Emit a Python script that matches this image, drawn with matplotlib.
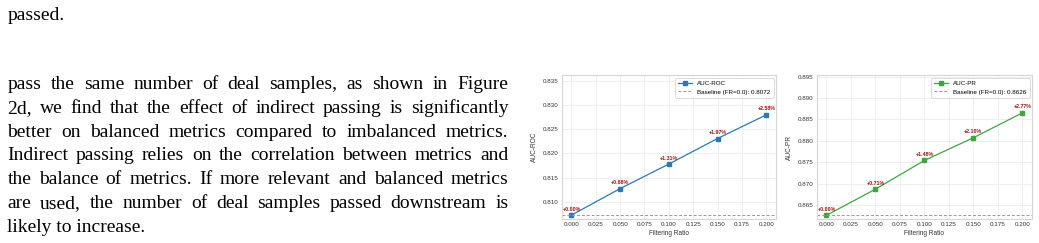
import numpy as np
import matplotlib
matplotlib.use("Agg")
import matplotlib.pyplot as plt

# data
ratios = [0.0, 0.05, 0.10, 0.15, 0.20]
roc_vals = [0.8072, 0.8127, 0.8178, 0.8231, 0.8280]
pr_vals = [0.8626, 0.8687, 0.8754, 0.8807, 0.8865]
roc_base = 0.8072
pr_base = 0.8626
xtick_vals = [0.0, 0.025, 0.05, 0.075, 0.1, 0.125, 0.15, 0.175, 0.2]

top_line = "passed."
para_lines = [
    "pass the same number of deal samples, as shown in Figure",
    "2d, we find that the effect of indirect passing is significantly",
    "better on balanced metrics compared to imbalanced metrics.",
    "Indirect passing relies on the correlation between metrics and",
    "the balance of metrics. If more relevant and balanced metrics",
    "are used, the number of deal samples passed downstream is",
    "likely to increase.",
]

W, H = 1039, 243
fig = plt.figure(figsize=(W / 100, H / 100), dpi=100)
fig.patch.set_facecolor("white")

serif = "Liberation Serif"
sans = "Liberation Sans"

# ---- body text (justified by hand) ----
left_px, right_px = 7.3, 508.3
fs_body = 14
renderer = fig.canvas.get_renderer()

fig.text(left_px / W, 1 - 20 / H, top_line, family=serif, fontsize=fs_body,
         va="baseline", ha="left")

base0, step = 89.3, 23.73
for i, line in enumerate(para_lines):
    y = 1 - (base0 + i * step) / H
    last = i == len(para_lines) - 1
    if last:
        fig.text(left_px / W, y, line, family=serif, fontsize=fs_body,
                 va="baseline", ha="left")
        continue
    words = line.split(" ")
    objs = []
    widths = []
    for w in words:
        t = fig.text(0, y, w, family=serif, fontsize=fs_body,
                     va="baseline", ha="left")
        objs.append(t)
        widths.append(t.get_window_extent(renderer).width)
    gap = (right_px - left_px - sum(widths)) / (len(words) - 1)
    x = left_px
    for t, wd in zip(objs, widths):
        t.set_x(x / W)
        x += wd + gap


# ---- charts ----
def panel(rect, vals, base, color, name, ylabel):
    ax = fig.add_axes(rect)
    ax.set_facecolor("white")
    ax.grid(True, color="#ececec", linewidth=0.6)
    ax.set_axisbelow(True)
    for s in ax.spines.values():
        s.set_color("#d6d6d6")
        s.set_linewidth(0.8)
    ax.plot(ratios, vals, marker="s", markersize=3.2, linewidth=0.9,
            color=color, label=name)
    ax.axhline(base, color="#999999", linestyle="--", linewidth=0.7,
               dashes=(3, 2), label="Baseline (FR=0.0): %.4f" % base)
    for xv, yv in zip(ratios, vals):
        pct = (yv - base) / base * 100
        ax.annotate("+%.2f%%" % pct, (xv, yv), xytext=(0, 2.5),
                    textcoords="offset points", ha="center", va="bottom",
                    fontsize=3.8, color="#a01010", fontweight="bold",
                    family=sans)
    ax.set_ylim(min(vals) * 0.999, max(vals) * 1.01)
    ax.set_xticks(xtick_vals)
    ax.set_xticklabels(["%.3f" % v for v in xtick_vals])
    ax.tick_params(length=0, labelsize=4.5, labelcolor="#333333", pad=2.5)
    for lab in ax.get_xticklabels() + ax.get_yticklabels():
        lab.set_family(sans)
    ax.set_xlabel("Filtering Ratio", fontsize=4.7, family=sans,
                  color="#333333", labelpad=2)
    ax.set_ylabel(ylabel, fontsize=4.7, family=sans, color="#333333",
                  labelpad=3)
    leg = ax.legend(loc="upper right", prop={"family": sans, "size": 4.5},
                    frameon=True, fancybox=True, framealpha=1,
                    borderpad=0.5, handlelength=2.2, borderaxespad=0.4)
    leg.get_frame().set_edgecolor("#d6d6d6")
    leg.get_frame().set_linewidth(0.6)
    return ax


panel([561.7 / W, 1 - 219 / H, (776 - 561.7) / W, 144 / H],
      roc_vals, roc_base, "#2a7ab8", "AUC-ROC", "AUC-ROC")
panel([816.7 / W, 1 - 219 / H, (1032 - 816.7) / W, 144 / H],
      pr_vals, pr_base, "#3aa93a", "AUC-PR", "AUC-PR")

fig.savefig("out.png", dpi=100)
